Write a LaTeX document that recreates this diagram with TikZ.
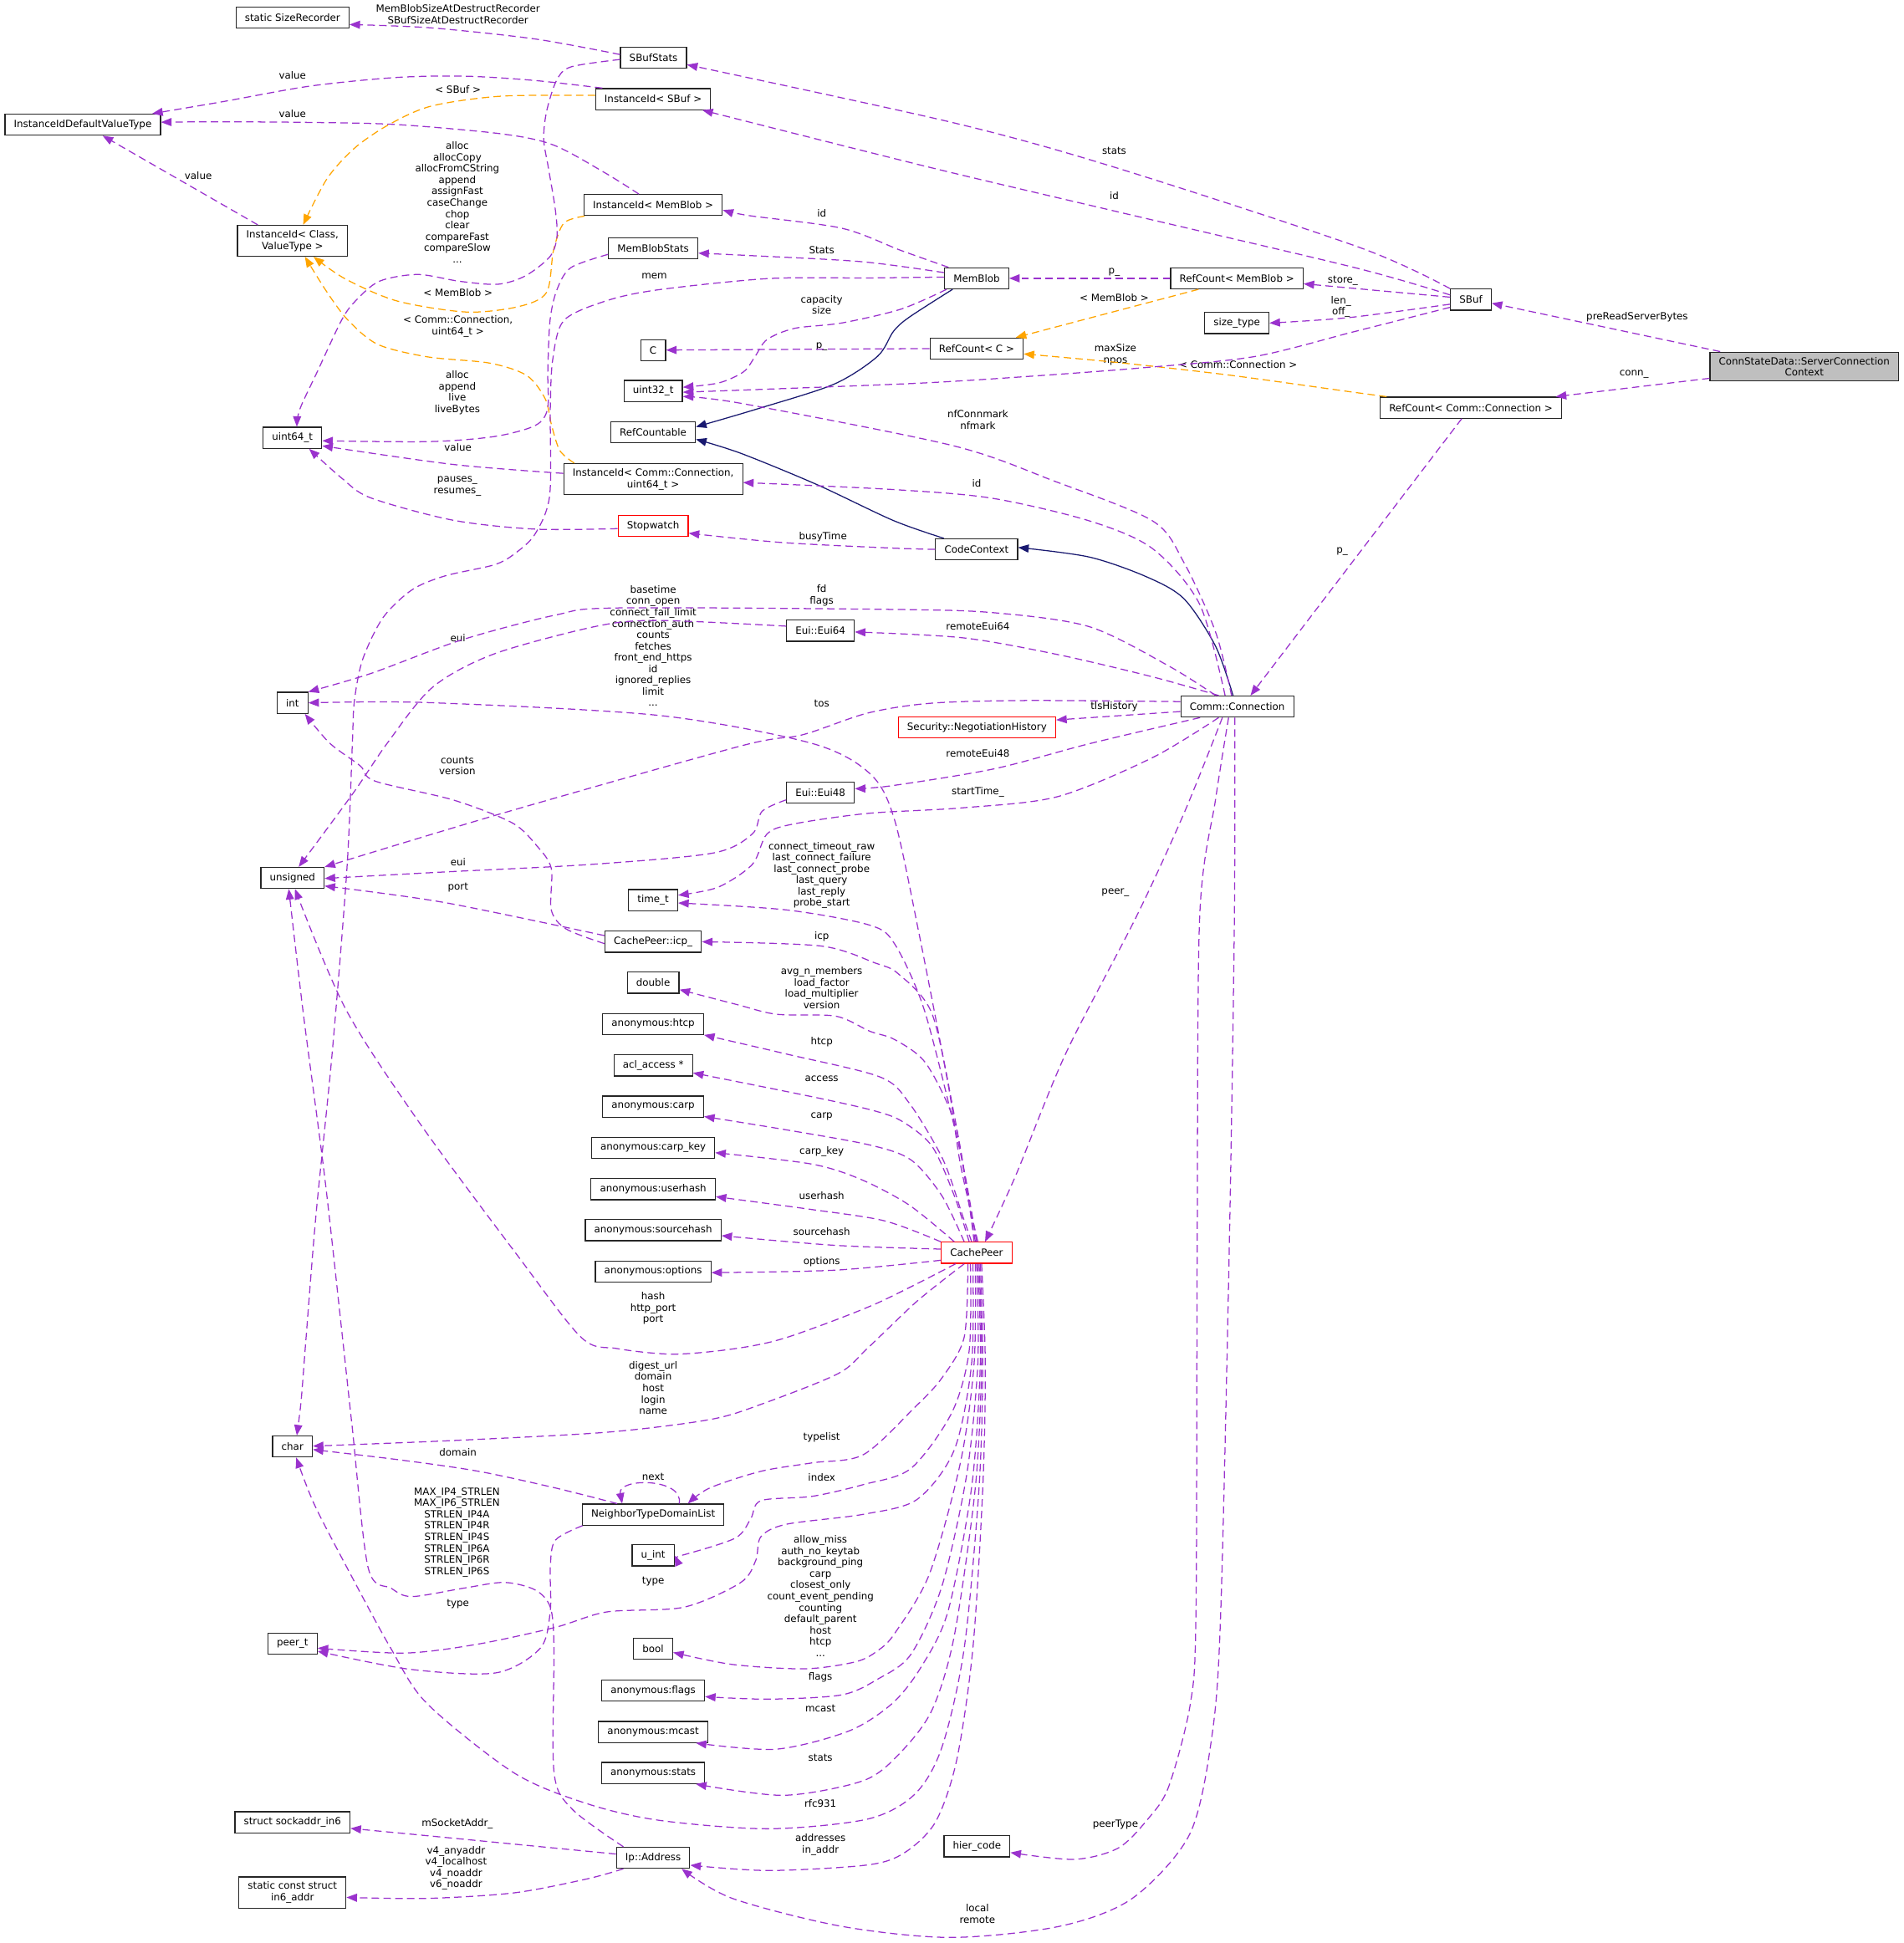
\documentclass[tikz,border=0pt]{standalone}
\usepackage{fontspec}
\setmainfont{DejaVu Sans}
\usetikzlibrary{arrows.meta}
\definecolor{dxpurple}{HTML}{9A32CD}
\definecolor{dxorange}{HTML}{FFA500}
\definecolor{dxnavy}{HTML}{191970}
\newcommand{\dxfont}{\fontsize{8}{9.15}\selectfont}
\begin{document}
\begin{tikzpicture}[x=1pt,y=-1pt,
  box/.style={draw=black!85, fill=white, line width=0.8pt, inner xsep=7.2pt, inner ysep=4pt, minimum height=17pt, font=\dxfont, align=center},
  redbox/.style={box, draw=red},
  rootbox/.style={box, fill=black!25},
  lbl/.style={font=\dxfont, align=center, inner sep=0pt},
  pe/.style={draw=dxpurple, line width=0.85pt, dash pattern=on 6pt off 3.5pt, -{Triangle[length=8.5pt,width=6.5pt]}},
  oe/.style={pe, draw=dxorange},
  ne/.style={draw=dxnavy, line width=0.85pt, -{Triangle[length=8.5pt,width=6.5pt]}},
]
\fill[white] (0,0) rectangle (1536,1568);
\useasboundingbox (0,0) rectangle (1536,1568);

% ---------------- nodes ----------------
\node[box] (sr) at (236,14.3) {static SizeRecorder};
\node[box] (iidvt) at (66.8,100.6) {InstanceIdDefaultValueType};
\node[box] (iidcv) at (236,194.3) {InstanceId< Class,\\ValueType >};
\node[box] (u64) at (236,353.3) {uint64\_t};
\node[box] (int) at (236,567.2) {int};
\node[box] (uns) at (236,708.5) {unsigned};
\node[box] (chr) at (236,1167.3) {char};
\node[box] (peert) at (236,1326.5) {peer\_t};
\node[box] (sin6) at (236,1470.5) {struct sockaddr\_in6};
\node[box] (in6) at (236,1527.2) {static const struct\\in6\_addr};
\node[box] (sbs) at (527.3,46.7) {SBufStats};
\node[box] (iidsbuf) at (527,80) {InstanceId< SBuf >};
\node[box] (iidmb) at (527,165.5) {InstanceId< MemBlob >};
\node[box] (mbs) at (527,200.3) {MemBlobStats};
\node[box] (cc) at (527,282.5) {C};
\node[box] (u32) at (527,315.5) {uint32\_t};
\node[box] (rcable) at (527,349) {RefCountable};
\node[box] (iidconn) at (527,386.7) {InstanceId< Comm::Connection,\\uint64\_t >};
\node[redbox] (sw) at (527,424.3) {Stopwatch};
\node[box] (eui64) at (662,509) {Eui::Eui64};
\node[box] (eui48) at (662,639.5) {Eui::Eui48};
\node[box] (timet) at (527,726.4) {time\_t};
\node[box] (icp) at (527,760) {CachePeer::icp\_};
\node[box] (dbl) at (527,793) {double};
\node[box] (htcp) at (527,826.3) {anonymous:htcp};
\node[box] (acl) at (527,859.8) {acl\_access *};
\node[box] (carp) at (527,893) {anonymous:carp};
\node[box] (carpkey) at (527,926.2) {anonymous:carp\_key};
\node[box] (userhash) at (527,959.7) {anonymous:userhash};
\node[box] (srchash) at (527,992.8) {anonymous:sourcehash};
\node[box] (opts) at (527,1026) {anonymous:options};
\node[box] (ntdl) at (527,1222.3) {NeighborTypeDomainList};
\node[box] (uint) at (527,1255.2) {u\_int};
\node[box] (boolt) at (527,1330.5) {bool};
\node[box] (aflags) at (527,1364.2) {anonymous:flags};
\node[box] (amcast) at (527,1397.7) {anonymous:mcast};
\node[box] (astats) at (527,1430.8) {anonymous:stats};
\node[box] (ipa) at (527,1499.2) {Ip::Address};
\node[box] (memblob) at (788,224.6) {MemBlob};
\node[box] (rcc) at (788,281.3) {RefCount< C >};
\node[box] (codectx) at (788,443.3) {CodeContext};
\node[redbox] (sec) at (788.3,587) {Security::NegotiationHistory};
\node[redbox] (cp) at (788,1011) {CachePeer};
\node[box] (hier) at (788.3,1490) {hier\_code};
\node[box] (rcmb) at (998,224.6) {RefCount< MemBlob >};
\node[box] (sizet) at (998,260.7) {size\_type};
\node[box] (conn) at (998.3,570.2) {Comm::Connection};
\node[box] (sbuf) at (1186.8,241.8) {SBuf};
\node[box] (rcconn) at (1186.8,329) {RefCount< Comm::Connection >};
\node[rootbox] (scc) at (1455.8,295.8) {ConnStateData::ServerConnection\\Context};

% ---------------- labels ----------------
\node[lbl] (la1) at (369.5,11.5) {MemBlobSizeAtDestructRecorder\\SBufSizeAtDestructRecorder};
\node[lbl] (la2) at (236,61) {value};
\node[lbl] (la3) at (236,92) {value};
\node[lbl] (la4) at (160,142) {value};
\node[lbl] (la5) at (369.5,72) {< SBuf >};
\node[lbl] (la6) at (369,163.3) {alloc\\allocCopy\\allocFromCString\\append\\assignFast\\caseChange\\chop\\clear\\compareFast\\compareSlow\\...};
\node[lbl] (la7) at (369.6,236) {< MemBlob >};
\node[lbl] (la8) at (369.5,263.5) {< Comm::Connection,\\uint64\_t >};
\node[lbl] (la9) at (369,317) {alloc\\append\\live\\liveBytes};
\node[lbl] (la10) at (369.5,361) {value};
\node[lbl] (la11) at (369,392.5) {pauses\_\\resumes\_};
\node[lbl] (la12) at (369.5,514.7) {eui};
\node[lbl] (la13) at (369,618) {counts\\version};
\node[lbl] (la14) at (369.6,695.5) {eui};
\node[lbl] (la15) at (369.6,716) {port};
\node[lbl] (la16) at (369.5,1172) {domain};
\node[lbl] (la17) at (368.7,1236.5) {MAX\_IP4\_STRLEN\\MAX\_IP6\_STRLEN\\STRLEN\_IP4A\\STRLEN\_IP4R\\STRLEN\_IP4S\\STRLEN\_IP6A\\STRLEN\_IP6R\\STRLEN\_IP6S};
\node[lbl] (la18) at (369.5,1294.5) {type};
\node[lbl] (la19) at (369,1472) {mSocketAddr\_};
\node[lbl] (la20) at (368,1507.6) {v4\_anyaddr\\v4\_localhost\\v4\_noaddr\\v6\_noaddr};
\node[lbl] (lb1) at (528,222.6) {mem};
\node[lbl] (lb2) at (527,521.3) {basetime\\conn\_open\\connect\_fail\_limit\\connection\_auth\\counts\\fetches\\front\_end\_https\\id\\ignored\_replies\\limit\\...};
\node[lbl] (lb3) at (527,1056) {hash\\http\_port\\port};
\node[lbl] (lb4) at (527,1120) {digest\_url\\domain\\host\\login\\name};
\node[lbl] (lb5) at (527,1191.5) {next};
\node[lbl] (lb6) at (527,1276.5) {type};
\node[lbl] (lc1) at (663,171.8) {id};
\node[lbl] (lc2) at (663,202) {Stats};
\node[lbl] (lc3) at (663,246) {capacity\\size};
\node[lbl] (lc4) at (663,280) {p\_};
\node[lbl] (lc5) at (664,433) {busyTime};
\node[lbl] (lc6) at (663,480.5) {fd\\flags};
\node[lbl] (lc7) at (663,568) {tos};
\node[lbl] (lc8) at (663,706.3) {connect\_timeout\_raw\\last\_connect\_failure\\last\_connect\_probe\\last\_query\\last\_reply\\probe\_start};
\node[lbl] (lc9) at (663,756) {icp};
\node[lbl] (lc10) at (663,797.2) {avg\_n\_members\\load\_factor\\load\_multiplier\\version};
\node[lbl] (lc11) at (663,840.6) {htcp};
\node[lbl] (lc12) at (663,870.8) {access};
\node[lbl] (lc13) at (663,901) {carp};
\node[lbl] (lc14) at (663,929.5) {carp\_key};
\node[lbl] (lc15) at (663,965) {userhash};
\node[lbl] (lc16) at (663,994) {sourcehash};
\node[lbl] (lc17) at (663,1018.6) {options};
\node[lbl] (lc18) at (663,1160) {typelist};
\node[lbl] (lc19) at (663,1192) {index};
\node[lbl] (lc20) at (662,1288) {allow\_miss\\auth\_no\_keytab\\background\_ping\\carp\\closest\_only\\count\_event\_pending\\counting\\default\_parent\\host\\htcp\\...};
\node[lbl] (lc21) at (662,1353.7) {flags};
\node[lbl] (lc22) at (662,1378.6) {mcast};
\node[lbl] (lc23) at (662,1418.6) {stats};
\node[lbl] (lc24) at (662,1455.5) {rfc931};
\node[lbl] (lc25) at (662,1488.7) {addresses\\in\_addr};
\node[lbl] (ld1) at (789,338.7) {nfConnmark\\nfmark};
\node[lbl] (ld2) at (788,390) {id};
\node[lbl] (ld3) at (789,505.7) {remoteEui64};
\node[lbl] (ld4) at (789,608) {remoteEui48};
\node[lbl] (ld5) at (789,639.5) {startTime\_};
\node[lbl] (ld6) at (788.6,1544.5) {local\\remote};
\node[lbl] (le1) at (899,157.6) {id};
\node[lbl] (le2) at (899,122) {stats};
\node[lbl] (le3) at (899,220) {p\_};
\node[lbl] (le4) at (899,240) {< MemBlob >};
\node[lbl] (le5) at (900,286.3) {maxSize\\npos};
\node[lbl] (le6) at (899,570.5) {tlsHistory};
\node[lbl] (le7) at (900,720) {peer\_};
\node[lbl] (le8) at (900,1472.6) {peerType};
\node[lbl] (lf1) at (999,294) {< Comm::Connection >};
\node[lbl] (lg1) at (1083.5,226.4) {store\_};
\node[lbl] (lg2) at (1082,247.5) {len\_\\off\_};
\node[lbl] (lg3) at (1083,445) {p\_};
\node[lbl] (lh1) at (1321,255.7) {preReadServerBytes};
\node[lbl] (lh2) at (1318.5,302) {conn\_};

% ---------------- edges: top-left ----------------
\draw[pe] plot[smooth] coordinates {([yshift=2.7pt]sbs.west) (432,31.5) (348,22.5) ([yshift=-5.5pt]sr.east)};
\draw[pe] plot[smooth] coordinates {([xshift=-41pt]iidsbuf.north) (432,65) (376,61.5) (320,62.5) (250,69.5) (180,82) ([xshift=56pt]iidvt.north)};
\draw[pe] plot[smooth] coordinates {([xshift=-11.5pt]iidmb.north) (488,139.4) (446.5,117) (404.5,108) (320,100.5) (250,98.8) (180,98.3) ([yshift=2pt]iidvt.east)};
\draw[pe] ([xshift=-28pt]iidcv.north) -- ([xshift=16pt]iidvt.south);
\draw[oe] plot[smooth] coordinates {([yshift=3pt]iidsbuf.west) (404.5,77.6) (348.4,85.5) (314.8,100) (286.7,119) (264,144) ([xshift=8.6pt]iidcv.north)};
\draw[oe] plot[smooth] coordinates {([xshift=1pt]iidmb.south west) (455,180) (446.6,202) (441,236) (418.5,247.4) (376.4,251.8) (320.4,242.9) (278.3,224.9) ([xshift=17pt]iidcv.south)};
\draw[oe] plot[smooth] coordinates {([xshift=-63.6pt]iidconn.north) (451.7,363.6) (445,343) (440,322) (425,303) (395,293) (345,288) (305,278) (281,258.6) (264,236) ([xshift=10pt]iidcv.south)};
\draw[pe] plot[smooth] coordinates {([yshift=-1.3pt]sbs.west) (460.6,54) (449,65) (441,90) (438.7,112.4) (442.4,135) (448,168.6) (449.4,191) (443.8,207) (424,222.6) (401.7,229.4) (370.8,227) (337,221.5) (306,227) (286.7,243) (275.5,258.6) (256,300) (242,330) ([xshift=3.5pt]u64.north)};
\draw[pe] plot[smooth] coordinates {([yshift=-5pt]mbs.west) (460.6,216) (449.3,234) (443.8,258.6) (442,300) (441.8,330) (431.8,343.4) (398.7,352.3) (345.6,356.4) ([yshift=-2.4pt]u64.east)};
\draw[pe] plot[smooth] coordinates {([yshift=1pt]memblob.west) (700,224.3) (620,224.8) (530.8,233.9) (488.7,242.9) (455,258.6) (446,290) (444,330) (443.5,400) (431.7,431) (415.3,446.8) (398.7,455.8) (358.9,464.8) (332.4,476) (309,498.5) (292.6,532.2) (285.9,566) (284.3,600) (280,700) (268,850) (255,980) (247,1079) (243,1130) ([xshift=3.5pt]chr.north)};

% ---------------- MemBlob / RefCount / SBuf ----------------
\draw[pe] plot[smooth] coordinates {([xshift=-22.7pt]memblob.north) (727.2,202.2) (679.3,184.2) (604.4,174) ([yshift=-4pt]iidmb.east)};
\draw[pe] plot[smooth] coordinates {([yshift=4.6pt]memblob.west) (695.4,211.2) (604.4,206.2) ([yshift=-4pt]mbs.east)};
\draw[pe] plot[smooth] coordinates {([xshift=2pt]memblob.south west) (727.2,249.4) (679.4,260.6) (641,265) (618.9,274) (609.3,287.6) (600,300) (580,309) ([yshift=3pt]u32.east)};
\draw[ne] plot[smooth] coordinates {([xshift=-19.4pt]memblob.south) (733.6,256) (720.9,267.4) (708,287.6) (673,310) (611,330) ([yshift=4.5pt]rcable.east)};
\draw[ne] plot[smooth] coordinates {([xshift=-26.5pt]codectx.north) (720.7,420) (659,391) (597.7,365.8) ([yshift=-5.5pt]rcable.east)};
\draw[ne] plot[smooth] coordinates {([xshift=-3.4pt]conn.north) (980.8,521.5) (955.3,483.2) (924.7,465.3) (878.8,449.5) ([yshift=1.5pt]codectx.east)};
\draw[pe] (rcmb.west) -- (memblob.east);
\draw[oe] ([xshift=-31pt]rcmb.south) -- ([xshift=31.6pt]rcc.north);
\draw[oe] plot[smooth] coordinates {([xshift=-68pt]rcconn.north) (1088.3,316) (989.4,302.4) (899.4,292.3) ([yshift=-4.3pt]rcc.east)};
\draw[pe] (rcc.west) -- (cc.east);
\draw[pe] ([yshift=2pt]sbuf.west) -- ([yshift=-4.4pt]rcmb.east);
\draw[pe] plot[smooth] coordinates {([yshift=-3.7pt]sbuf.west) (1088.3,256.3) (sizet.east)};
\draw[pe] plot[smooth] coordinates {([yshift=-6.2pt]sbuf.west) (1092.8,267.6) (1011.9,287.8) (922,296.8) (832,303.6) (742,309.2) (604.4,314.6) ([yshift=-1pt]u32.east)};
\draw[pe] plot[smooth] coordinates {(sbuf.north west) (1097,199.7) (899.4,135) (769,99) ([yshift=-5.5pt]sbs.east)};
\draw[pe] plot[smooth] coordinates {([yshift=3.8pt]sbuf.west) (1092.8,215.9) (900,170.5) (750,135) ([xshift=39.7pt]iidsbuf.south)};
\draw[pe] ([xshift=-67.8pt]scc.north) -- ([yshift=-2.9pt]sbuf.east);
\draw[pe] ([yshift=-9.5pt]scc.west) -- ([xshift=68.5pt]rcconn.north);
\draw[pe] ([xshift=-7.4pt]rcconn.south) -- ([xshift=10.7pt]conn.north);

% ---------------- Comm::Connection ----------------
\draw[pe] plot[smooth] coordinates {([xshift=-4.6pt]conn.north) (980.8,510) (955.3,454) (929.9,420.3) (850,388) (768.7,359.6) (599.7,325.8) ([yshift=-4.5pt]u32.east)};
\draw[pe] plot[smooth] coordinates {([xshift=-9.8pt]conn.north) (968,487.7) (929.9,442.7) (878.8,420.3) (800,402) (719.7,395) ([yshift=-2.7pt]iidconn.east)};
\draw[pe] plot[smooth] coordinates {(codectx.west) (719.7,442.3) (630.8,437.8) ([yshift=-6pt]sw.east)};
\draw[pe] plot[smooth] coordinates {([yshift=-2.3pt]sw.west) (431.7,427) (365.5,419.8) (299.2,401.8) (275.9,386) ([xshift=13.4pt]u64.south)};
\draw[pe] plot[smooth] coordinates {([yshift=4.7pt]iidconn.west) (365.5,374.8) ([yshift=-6.5pt]u64.east)};
\draw[pe] plot[smooth] coordinates {([xshift=-17.3pt]conn.north) (942.6,537.2) (878.8,505.7) (802.3,494.5) (719.7,491.8) (498.2,490.6) (448.4,496.3) (372.2,516.5) (299.2,543.5) (int.north east)};
\draw[pe] plot[smooth] coordinates {([xshift=-14.9pt]conn.north) (929.9,546.2) (853.3,528.2) (776.8,514.7) ([yshift=-1pt]eui64.east)};
\draw[pe] plot[smooth] coordinates {([yshift=3.7pt]eui64.west) (531.3,500.7) (481.6,505.3) (398.7,527.7) (348.9,554.7) (312.5,599.7) (285,640) ([xshift=5pt]uns.north)};
\draw[pe] plot[smooth] coordinates {([yshift=4pt]conn.west) (827.7,565.3) (751.2,567.5) (700.2,575.4) (647.4,593) (597.7,602) (405.3,656.3) (uns.north east)};
\draw[pe] ([yshift=-4pt]conn.west) -- ([yshift=6pt]sec.east);
\draw[pe] plot[smooth] coordinates {([xshift=-30pt]conn.south) (878.8,600.2) (802.3,620.4) (720,634) ([yshift=3pt]eui48.east)};
\draw[pe] plot[smooth] coordinates {([yshift=-6pt]eui48.west) (614.9,654.7) (607,673) (575.3,688.4) (476.5,697.6) (357.9,703.7) ([yshift=-0.4pt]uns.east)};
\draw[pe] plot[smooth] coordinates {([xshift=-15pt]conn.south) (929.9,611.4) (853.3,642.9) (776.8,651.9) (700.2,656.4) (640,665) (618.8,673.1) (607,697.6) (579.3,716) ([yshift=4pt]timet.east)};
\draw[pe] plot[smooth] coordinates {([xshift=-12pt]conn.south) (955.3,656.4) (917,739.5) (860,850) (819.6,948.5) ([xshift=6.8pt]cp.north)};
\draw[pe] plot[smooth] coordinates {([xshift=-7pt]conn.south) (980.8,645) (968,739.5) (966,1000) (965,1300) (960.5,1374.6) (942.9,1442) (925.3,1469) (902,1491.5) (866.6,1500.5) ([yshift=-5pt]hier.east)};
\draw[pe] plot[smooth] coordinates {([xshift=-2pt]conn.south) (996,740) (992,1000) (985,1300) (978,1400) (960,1480) (913.6,1532) (855,1554.5) (767,1563.5) (678.9,1554.5) (590.9,1532) ([xshift=23pt]ipa.south)};

% ---------------- CachePeer ----------------
\draw[pe] plot[smooth] coordinates {([xshift=1pt]cp.north) (775,940) (765,875) (741.4,752.7) (721.6,661) (701.8,624.2) (654.4,599.7) (531.3,577.3) (345.6,567) (int.east)};
\draw[pe] plot[smooth] coordinates {([xshift=0pt]cp.north) (779,950) (769,905) (745.4,813.8) (722,762) (701.8,746.6) (634.6,734.3) ([yshift=-2.3pt]timet.east)};
\draw[pe] plot[smooth] coordinates {([xshift=-1pt]cp.north) (780,960) (770,900) (752,818) (725,786) (705.8,777) (662.3,763.4) (icp.east)};
\draw[pe] plot[smooth] coordinates {([xshift=-2pt]cp.north) (781,965) (770,905) (747,858) (722,839) (701.8,832.2) (674.2,820) (626.7,818.5) (595.1,810.8) ([yshift=-5.6pt]dbl.east)};
\draw[pe] plot[smooth] coordinates {([xshift=-4pt]cp.north) (777,982) (761,936) (733.5,890) (709.8,869) (634.6,850.6) (htcp.south east)};
\draw[pe] plot[smooth] coordinates {([xshift=-6pt]cp.north) (770,965) (752,925) (728,905) (705.8,896.5) (658.4,885.7) ([yshift=-6pt]acl.east)};
\draw[pe] plot[smooth] coordinates {([xshift=-10pt]cp.north) (760,965) (735,936) (701.8,924) (634.6,911.8) ([yshift=-8pt]carp.east)};
\draw[pe] plot[smooth] coordinates {([xshift=-18pt]cp.north) (733.5,972.4) (694,951.5) (654.4,939.3) ([yshift=-4pt]carpkey.east)};
\draw[pe] plot[smooth] coordinates {(cp.north west) (713.7,985.2) (654.4,976) ([yshift=-6pt]userhash.east)};
\draw[pe] plot[smooth] coordinates {([yshift=3pt]cp.west) (674.2,1005) ([yshift=-4.4pt]srchash.east)};
\draw[pe] plot[smooth] coordinates {([yshift=-6pt]cp.west) (674.2,1025) ([yshift=-1pt]opts.east)};
\draw[pe] plot[smooth] coordinates {([xshift=-17pt]cp.south) (705.8,1052.5) (634.8,1079.3) (593.3,1088.3) (543.6,1092.8) (498,1088.3) (469,1079.3) (417.2,1012.7) (338.1,905.6) (278.7,813.9) ([xshift=2pt]uns.south)};
\draw[pe] plot[smooth] coordinates {([xshift=-10pt]cp.south) (740,1050) (700,1088) (676.2,1108.5) (614,1133.3) (572.6,1145.6) (489.6,1155.8) (365.4,1162.5) ([yshift=0.3pt]chr.east)};
\draw[pe] plot[smooth] coordinates {([xshift=-7pt]cp.south) (778,1079) (760,1112) (738.3,1135.5) (696.8,1173.8) (655.4,1180.5) (614,1187.3) (572.6,1200.8) ([xshift=28pt]ntdl.north)};
\draw[pe] ([xshift=21pt]ntdl.north) .. controls +(4,-21) and +(-4,-21) .. ([xshift=-25pt]ntdl.north);
\draw[pe] plot[smooth] coordinates {([xshift=-5pt]cp.south) (782,1090) (768,1140) (735,1185) (696.8,1198) (655.4,1207.5) (614,1211) (605.8,1225.5) (593.3,1241.2) (551.8,1254.7) (uint.east)};
\draw[pe] plot[smooth] coordinates {([xshift=-3pt]cp.south) (784,1100) (770,1170) (740,1210) (696.8,1222) (634.8,1230) (614,1240) (609.8,1259.2) (597.5,1277.2) (551.8,1297) (489.7,1300.8) (448.3,1313.2) (386.1,1326.7) (326.8,1334) ([yshift=-3.5pt]peert.east)};
\draw[pe] plot[smooth] coordinates {([xshift=-1pt]cp.south) (786,1100) (775,1180) (750,1270) (722,1318) (708.3,1332) (690.6,1341) (649.6,1346.7) (590.9,1343.2) ([yshift=-3pt]boolt.east)};
\draw[pe] plot[smooth] coordinates {([xshift=0pt]cp.south) (789,1100) (780,1190) (760,1280) (735,1335) (708.3,1355) (678.9,1367.8) (620.2,1371.2) ([yshift=-5pt]aflags.east)};
\draw[pe] plot[smooth] coordinates {([xshift=1pt]cp.south) (791,1100) (784,1200) (765,1300) (743.4,1345) (720,1374.6) (684.7,1397) (626,1411.6) ([xshift=34.5pt]amcast.south)};
\draw[pe] plot[smooth] coordinates {([xshift=2pt]cp.south) (792,1100) (787,1200) (770,1320) (752,1380) (725.9,1415) (696.5,1437) (632.1,1448.8) ([xshift=34.5pt]astats.south)};
\draw[pe] plot[smooth] coordinates {([xshift=3pt]cp.south) (793,1100) (790,1200) (778,1330) (760,1410) (738,1448) (700,1468) (620,1475.8) (532,1469) (473.5,1455.5) (414.9,1430.8) (344.4,1374.6) (315,1329.6) (282.6,1270) (253.6,1214) ([xshift=3pt]chr.south)};
\draw[pe] plot[smooth] coordinates {([xshift=4pt]cp.south) (795,1100) (793,1200) (785,1330) (772,1420) (755,1470) (730,1495) (700,1505) (620.2,1509.5) ([yshift=-6pt]ipa.east)};

% ---------------- CachePeer::icp_, NeighborTypeDomainList, Ip::Address ----------------
\draw[pe] plot[smooth] coordinates {([yshift=-1.5pt]icp.west) (456.7,749.6) (444.8,734.3) (444.8,700.7) (433,682.4) (413.2,664) (365.8,645.6) (302.5,630.3) (290.6,618) (266,599.7) ([xshift=10pt]int.south)};
\draw[pe] plot[smooth] coordinates {([yshift=5pt]icp.west) (357.9,728.2) ([yshift=-6.5pt]uns.east)};
\draw[pe] plot[smooth] coordinates {([xshift=-29pt]ntdl.north) (448.3,1200.8) (386,1187.3) (324,1178.3) ([yshift=-2.5pt]chr.east)};
\draw[pe] plot[smooth] coordinates {([xshift=-57pt]ntdl.south) (448,1243) (444,1265) (444,1300) (436,1330) (400,1350) (330,1347) ([yshift=-6pt]peert.east)};
\draw[pe] plot[smooth] coordinates {([xshift=-24pt]ipa.north) (461.7,1460) (447,1430) (447,1329.6) (444,1297) (431.7,1283) (406.8,1277) (373.7,1281.7) (332.3,1288.4) (315.7,1281.7) (297,1265) (284,1150) (276.3,1079) (262,950) (245,820) ([xshift=-3pt]uns.south)};
\draw[pe] plot[smooth] coordinates {([yshift=3pt]ipa.west) (356.2,1482.5) ([yshift=-5pt]sin6.east)};
\draw[pe] plot[smooth] coordinates {([xshift=-24pt]ipa.south) (473.5,1516.3) (414.9,1527.5) (344.4,1532) ([yshift=-4pt]in6.east)};
\end{tikzpicture}
\end{document}
